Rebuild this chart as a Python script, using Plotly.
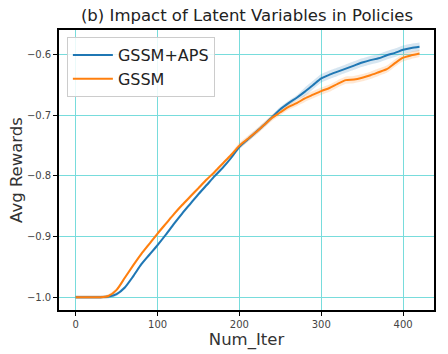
import plotly.graph_objects as go

iters = list(range(0, 421, 10))
gssm_aps = [-1.0, -1.0, -1.0, -1.0, -0.999, -0.995, -0.984, -0.966, -0.946, -0.93,
            -0.914, -0.897, -0.879, -0.862, -0.846, -0.830, -0.815, -0.800, -0.786, -0.770,
            -0.752, -0.740, -0.728, -0.716, -0.703, -0.690, -0.680, -0.671, -0.661, -0.650,
            -0.639, -0.633, -0.628, -0.623, -0.618, -0.613, -0.609, -0.606, -0.601, -0.597,
            -0.592, -0.589, -0.587]
gssm = [-1.0, -1.0, -1.0, -1.0, -0.998, -0.988, -0.968, -0.948, -0.929, -0.912,
        -0.895, -0.879, -0.863, -0.848, -0.834, -0.820, -0.806, -0.793, -0.779, -0.765,
        -0.750, -0.739, -0.728, -0.716, -0.704, -0.695, -0.686, -0.680, -0.672, -0.666,
        -0.660, -0.655, -0.648, -0.642, -0.641, -0.638, -0.634, -0.629, -0.624, -0.614,
        -0.605, -0.601, -0.598]
std_aps = [0.003] * 20 + [0.004] * 8 + [0.007] * 15
std_gssm = [0.003] * 20 + [0.005] * 8 + [0.006] * 15

x_ticks = [0, 100, 200, 300, 400]
y_ticks = [-1.0, -0.9, -0.8, -0.7, -0.6]

fig = go.Figure()
line_shape = dict(shape="spline", smoothing=0.6)

def band(y, s, color):
    up = [a + b for a, b in zip(y, s)]
    lo = [a - b for a, b in zip(y, s)]
    fig.add_trace(go.Scatter(x=iters, y=up, mode="lines", line=dict(width=0, **line_shape),
                             showlegend=False, hoverinfo="skip"))
    fig.add_trace(go.Scatter(x=iters, y=lo, mode="lines", line=dict(width=0, **line_shape),
                             fill="tonexty", fillcolor=color,
                             showlegend=False, hoverinfo="skip"))

band(gssm_aps, std_aps, "rgba(31,119,180,0.18)")
band(gssm, std_gssm, "rgba(255,127,14,0.18)")

fig.add_trace(go.Scatter(x=iters, y=gssm_aps, mode="lines", name="GSSM+APS",
                         line=dict(color="#1f77b4", width=2, **line_shape)))
fig.add_trace(go.Scatter(x=iters, y=gssm, mode="lines", name="GSSM",
                         line=dict(color="#ff7f0e", width=2, **line_shape)))

font = "DejaVu Sans"
axis_common = dict(showline=True, linecolor="black", linewidth=1.5, mirror=True,
                   showgrid=True, gridcolor="rgb(120,220,220)", gridwidth=1, zeroline=False,
                   ticks="outside", ticklen=4, tickwidth=1, tickcolor="black",
                   tickfont=dict(family=font, size=10, color="#444"))

fig.update_layout(
    width=448, height=354,
    margin=dict(l=59, r=13, t=30, b=40),
    paper_bgcolor="white", plot_bgcolor="white",
    title=dict(text="(b) Impact of Latent Variables in Policies", x=247 / 448, xanchor="center",
               y=1 - 15 / 354, yanchor="middle",
               font=dict(family=font, size=16.5, color="#222")),
    xaxis=dict(range=[-20.4, 437.7], tickvals=x_ticks,
               title=dict(text="Num_Iter", font=dict(family=font, size=16.5, color="#333"), standoff=1),
               **axis_common),
    yaxis=dict(range=[-1.0211, -0.5593], tickvals=y_ticks, tickformat=".1f",
               title=dict(text="Avg Rewards", font=dict(family=font, size=16.5, color="#333"), standoff=0),
               **axis_common),
    legend=dict(x=0.021, y=0.975, xanchor="left", yanchor="top", traceorder="normal",
                bgcolor="rgba(255,255,255,0.85)", bordercolor="#cccccc", borderwidth=1,
                itemwidth=40,
                font=dict(family=font, size=16, color="#222"), tracegroupgap=0),
)

fig.write_html("out.html")
